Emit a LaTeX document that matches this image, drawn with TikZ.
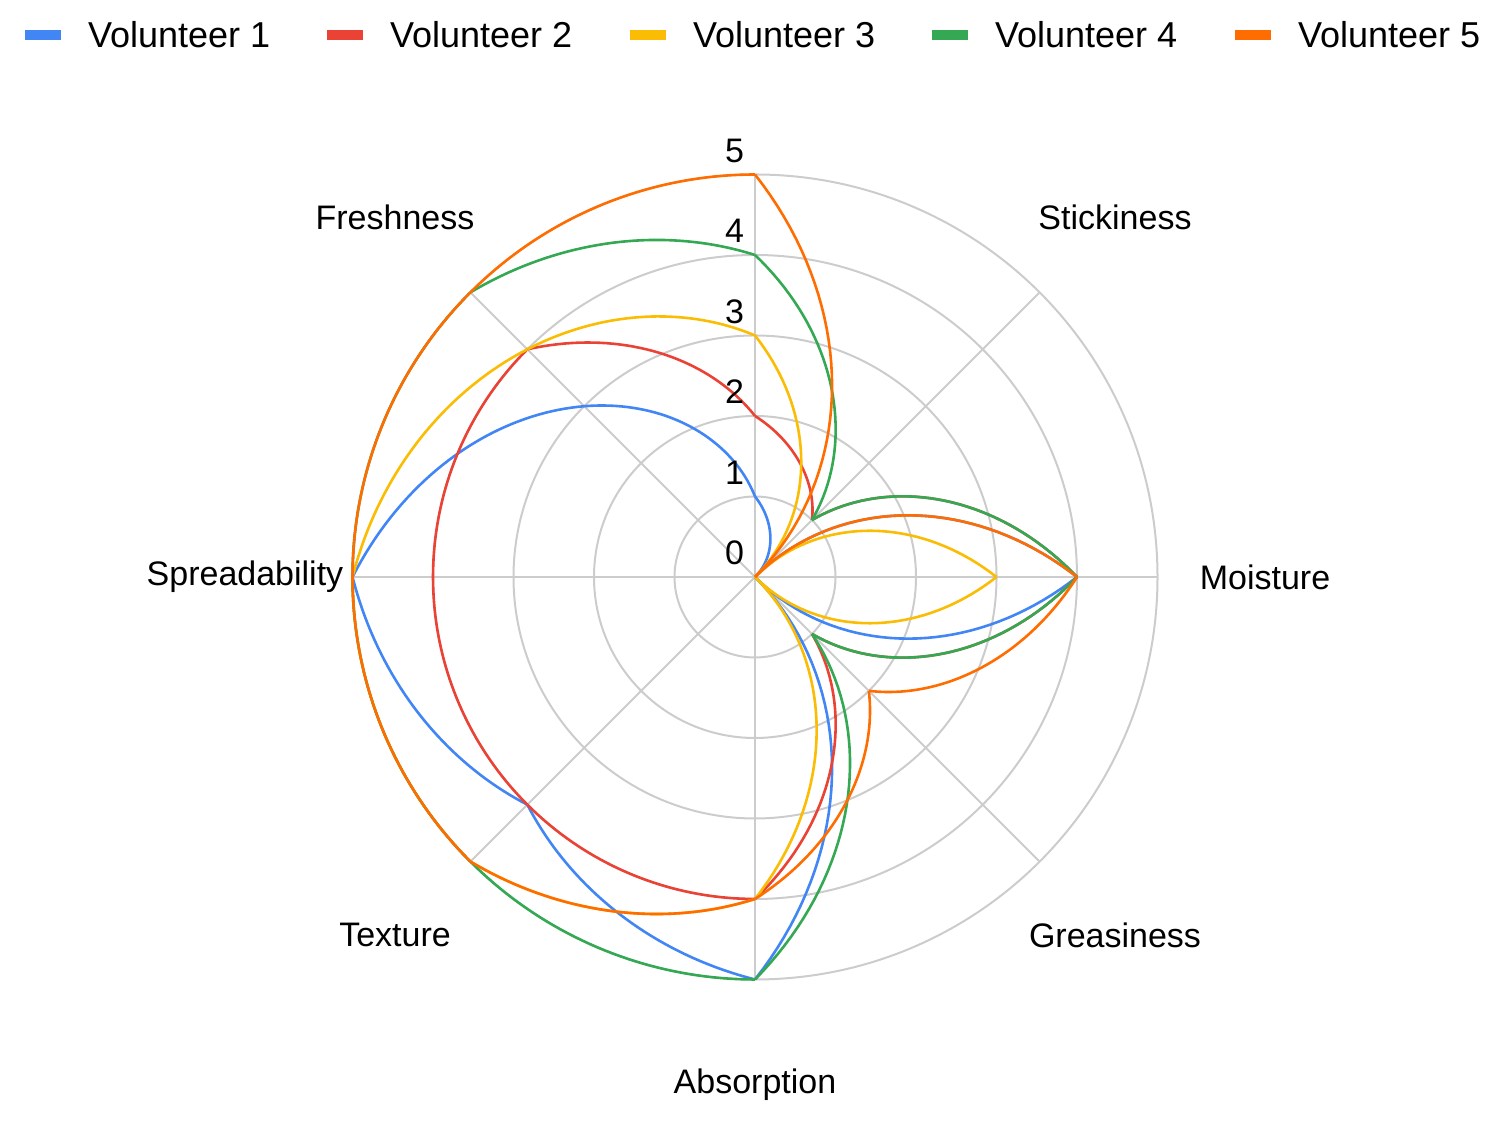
\documentclass[tikz,border=0pt]{standalone}
\usepackage{fontspec}
\setmainfont{Liberation Sans}
\definecolor{cA}{HTML}{4285F4}
\definecolor{cB}{HTML}{EA4335}
\definecolor{cC}{HTML}{FBBC04}
\definecolor{cD}{HTML}{34A853}
\definecolor{cE}{HTML}{FF6D01}
\definecolor{grid}{HTML}{CCCCCC}
\begin{document}
\begin{tikzpicture}[x=0.5pt,y=0.5pt,
  lbl/.style={font=\fontsize{17}{20}\selectfont},
  leg/.style={font=\fontsize{18}{21}\selectfont,anchor=west},
  series/.style={line width=1.3pt,line join=miter}]
\useasboundingbox (0,0) rectangle (1503,1127);
% legend
\foreach \c/\x/\n in {cA/25/1,cB/327/2,cC/630/3,cD/932/4,cE/1235/5}{
  \fill[\c] (\x,1087) rectangle ++(36,10);
  \node[leg] (leg\n) at (\x+56,1092) {Volunteer \n};
}
\begin{scope}[shift={(755,550)}]
\def\u{80.5}
\foreach \k in {1,...,5} \draw[grid,line width=1pt] (0,0) circle ({\k*\u});
\foreach \a in {0,45,...,315} \draw[grid,line width=1pt] (0,0) -- (\a:{5*\u});
\coordinate (O) at (0,0);
% series: values at angles 90,45,0,-45,-90,-135,180,135
\foreach \col/\vals in {cA/{1,0,4,0,5,4,5,3,1},cB/{2,1,4,1,4,4,4,4,2},cC/{3,0,3,0,4,5,5,4,3},cD/{4,1,4,1,5,5,5,5,4},cE/{5,0,4,2,4,5,5,5,5}}{
  \foreach \i in {0,...,7}{
    \pgfmathsetmacro{\ra}{{\vals}[\i]}
    \pgfmathsetmacro{\rb}{{\vals}[\i+1]}
    \pgfmathsetmacro{\aa}{90-45*\i}
    \draw[series,\col] plot[variable=\t,domain=0:1,samples=40] ({\aa-45*\t}:{(\ra+(\rb-\ra)*\t)*\u});
  }
}
\foreach \k in {0,...,5} \node[lbl,anchor=east,fill=none] (s\k) at (-4,{\k*\u+24}) {\k};
\end{scope}
\node[lbl] (fr) at (395,910) {Freshness};
\node[lbl] (st) at (1115,910) {Stickiness};
\node[lbl] (mo) at (1265,550) {Moisture};
\node[lbl] (gr) at (1115,192) {Greasiness};
\node[lbl] (ab) at (755,42) {Absorption};
\node[lbl] (te) at (395,192) {Texture};
\node[lbl] (sp) at (245,550) {Spreadability};
\end{tikzpicture}
\end{document}
